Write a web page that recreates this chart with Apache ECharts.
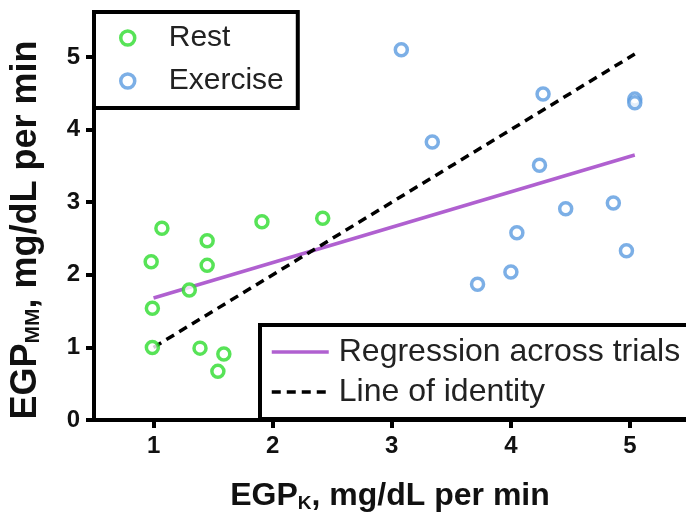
<!DOCTYPE html>
<html>
<head>
<meta charset="utf-8">
<script src="https://cdn.jsdelivr.net/npm/echarts@6/dist/echarts.min.js"></script>
<style>
  html, body { margin: 0; padding: 0; background: #fff; }
  #main { width: 686px; height: 514px; }
</style>
</head>
<body>
<div id="main"></div>
<script>
var myChart = echarts.init(document.getElementById("main"));

// values
var restPoints = [
  [1.07, 2.64], [1.45, 2.47], [1.91, 2.73], [2.42, 2.78],
  [0.98, 2.18], [1.45, 2.13], [1.30, 1.79], [0.99, 1.54],
  [0.99, 1.00], [1.39, 0.99], [1.59, 0.91], [1.54, 0.67]
];
var exercisePoints = [
  [3.08, 5.10], [4.27, 4.49], [5.04, 4.42], [5.04, 4.37],
  [3.34, 3.83], [4.24, 3.51], [4.46, 2.91], [4.86, 2.99],
  [4.05, 2.58], [4.97, 2.33], [3.72, 1.87], [4.00, 2.04]
];
var regressionLine = [[1.0, 1.68], [5.04, 3.65]];
var identityLine = [[1.0, 1.0], [5.04, 5.04]];
var xTicks = [1, 2, 3, 4, 5];
var yTicks = [0, 1, 2, 3, 4, 5];

var font = 'Liberation Sans, Arial, sans-serif';
var green = '#2ddc2d';
var blue = '#5b9be0';

var option = {
  animation: false,
  textStyle: { fontFamily: font },
  grid: { left: 94, right: 0, top: 12, bottom: 94, outerBoundsMode: 'none' },
  legend: [{
    data: ['Rest', 'Exercise'],
    orient: 'vertical',
    left: 94,
    top: 12,
    padding: [9, 14, 10, 25],
    itemGap: 9,
    itemWidth: 14,
    itemHeight: 14,
    itemStyle: { borderWidth: 3.5 },
    backgroundColor: '#fff',
    borderColor: '#000',
    borderWidth: 4,
    textStyle: { fontSize: 30, color: '#222', lineHeight: 34, padding: [0, 0, 0, 29] }
  }, {
    data: ['Regression across trials', 'Line of identity'],
    orient: 'vertical',
    left: 260,
    top: 325,
    padding: [11, 40, 11, 10],
    itemGap: 8,
    itemWidth: 57,
    itemHeight: 14,
    itemStyle: { opacity: 0 },
    lineStyle: { width: 3.5 },
    backgroundColor: '#fff',
    borderColor: '#000',
    borderWidth: 4,
    textStyle: { fontSize: 32, color: '#222', lineHeight: 32, padding: [0, 0, 0, 5] }
  }],
  xAxis: {
    type: 'value',
    min: 0.5,
    max: 5.47,
    name: '{a|EGP}{s|K}{a|, mg/dL per min}',
    nameLocation: 'middle',
    nameGap: 60,
    nameTextStyle: {
      rich: {
        a: { fontSize: 32, fontWeight: 'bold', color: '#111', fontFamily: font },
        s: { fontSize: 19, fontWeight: 'bold', color: '#111', fontFamily: font, padding: [14, 0, 0, 0] }
      }
    },
    axisLine: { lineStyle: { color: '#000', width: 4 } },
    axisTick: { customValues: xTicks, length: 8, lineStyle: { color: '#000', width: 4 } },
    axisLabel: { customValues: xTicks, fontSize: 24, fontWeight: 'bold', color: '#111', margin: 14 },
    splitLine: { show: false }
  },
  yAxis: {
    type: 'value',
    min: 0,
    max: 5.62,
    name: '{a|EGP}{s|MM}{a|, mg/dL per min}',
    nameLocation: 'middle',
    nameGap: 50,
    nameTextStyle: {
      padding: [0, 28, 0, 0],
      rich: {
        a: { fontSize: 36, fontWeight: 'bold', color: '#111', fontFamily: font },
        s: { fontSize: 21, fontWeight: 'bold', color: '#111', fontFamily: font, padding: [15, 0, 0, 0] }
      }
    },
    axisLine: { lineStyle: { color: '#000', width: 4 } },
    axisTick: { customValues: yTicks, length: 8, lineStyle: { color: '#000', width: 4 } },
    axisLabel: { customValues: yTicks, fontSize: 24, fontWeight: 'bold', color: '#111', margin: 14 },
    splitLine: { show: false }
  },
  series: [{
    name: 'Rest',
    type: 'scatter',
    symbol: 'circle',
    symbolSize: 12,
    itemStyle: { color: '#fff', borderColor: green, borderWidth: 3.5 },
    data: restPoints,
    z: 3
  }, {
    name: 'Exercise',
    type: 'scatter',
    symbol: 'circle',
    symbolSize: 12,
    itemStyle: { color: '#fff', borderColor: blue, borderWidth: 3.5 },
    data: exercisePoints,
    z: 3
  }, {
    name: 'Regression across trials',
    type: 'line',
    symbol: 'none',
    lineStyle: { color: '#b060d0', width: 3.5 },
    itemStyle: { color: '#b060d0' },
    data: regressionLine,
    z: 2
  }, {
    name: 'Line of identity',
    type: 'line',
    symbol: 'none',
    lineStyle: { color: '#000', width: 3.5, type: [9, 6] },
    itemStyle: { color: '#000' },
    data: identityLine,
    z: 2
  }]
};
myChart.setOption(option);
</script>
</body>
</html>
